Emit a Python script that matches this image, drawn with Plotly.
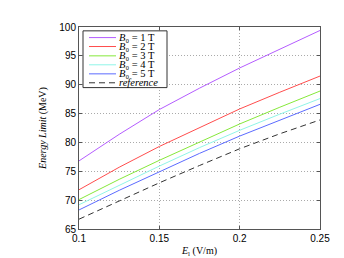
import plotly.graph_objects as go

x_vals = [0.1, 0.125, 0.15, 0.175, 0.2, 0.225, 0.25]
b1 = [76.8, 81.4, 85.7, 89.4, 92.9, 96.2, 99.4]
b2 = [71.8, 75.7, 79.3, 82.6, 85.8, 88.7, 91.5]
b3 = [70.1, 73.6, 76.9, 80.1, 83.2, 86.1, 88.9]
b4 = [69.2, 72.6, 75.9, 79.1, 82.1, 84.9, 87.6]
b5 = [68.3, 71.7, 74.9, 78.1, 81.1, 83.9, 86.6]
ref = [66.7, 69.9, 73.0, 76.0, 78.9, 81.5, 83.9]

names = ["<i>B</i>₀ = 1 T", "<i>B</i>₀ = 2 T", "<i>B</i>₀ = 3 T",
         "<i>B</i>₀ = 4 T", "<i>B</i>₀ = 5 T", "<i>reference</i>"]
series = [b1, b2, b3, b4, b5, ref]
colors = ["#b45cff", "#ff4d4d", "#86e83a", "#8ff5e8", "#5c6bff", "#333333"]
dashes = ["solid"] * 5 + ["6px,4px"]

x_ticks = [0.1, 0.15, 0.2, 0.25]
y_ticks = [65, 70, 75, 80, 85, 90, 95, 100]

fig = go.Figure()
for n, s, c, d in zip(names, series, colors, dashes):
    fig.add_trace(go.Scatter(x=x_vals, y=s, mode="lines", name=n,
                             line=dict(color=c, width=1, dash=d), showlegend=False))

W, H = 344, 258
L, R, T, B = 71, 32, 19, 29
pw, ph = W - L - R, H - T - B

def px(xp):
    return (xp - L) / pw

def py(yp):
    return (H - B - yp) / ph

serif = "Liberation Serif, DejaVu Serif, serif"
sans = "Liberation Sans, Arial, sans-serif"

# manual legend
shapes = [dict(type="rect", xref="paper", yref="paper", x0=px(75), x1=px(159), y0=py(82), y1=py(23),
               line=dict(color="#333", width=1), fillcolor="white", layer="above")]
annotations = []
rows = [30, 39.3, 49, 58.3, 67.7, 77]
for n, c, d, r in zip(names, colors, dashes, rows):
    shapes.append(dict(type="line", xref="paper", yref="paper", x0=px(81), x1=px(108), y0=py(r), y1=py(r),
                       line=dict(color=c, width=1, dash=d), layer="above"))
    annotations.append(dict(xref="paper", yref="paper", x=px(110), y=py(r), text=n, showarrow=False,
                            xanchor="left", yanchor="middle", borderpad=0,
                            font=dict(family=serif, size=10.5, color="black")))

axis_common = dict(showline=True, linecolor="#555", linewidth=1, mirror="ticks", ticks="inside",
                   ticklen=3, tickcolor="#555", showgrid=True, gridcolor="#aaa", griddash="1px,2px",
                   gridwidth=1, zeroline=False, tickfont=dict(family=sans, size=10, color="black"))

fig.update_layout(
    width=W, height=H, margin=dict(l=L, r=R, t=T, b=B),
    paper_bgcolor="white", plot_bgcolor="white",
    xaxis=dict(range=[0.1, 0.25], tickvals=x_ticks, ticktext=[str(v) for v in x_ticks],
               title=dict(text="<i>E</i><sub>l</sub> (V/m)", font=dict(family=serif, size=10, color="black"), standoff=3),
               **axis_common),
    yaxis=dict(range=[65, 100], tickvals=y_ticks,
               title=dict(text="<i>Energy Limit</i> (MeV)", font=dict(family=serif, size=10, color="black"), standoff=10),
               **axis_common),
    shapes=shapes, annotations=annotations,
)
fig.write_html("out.html")
